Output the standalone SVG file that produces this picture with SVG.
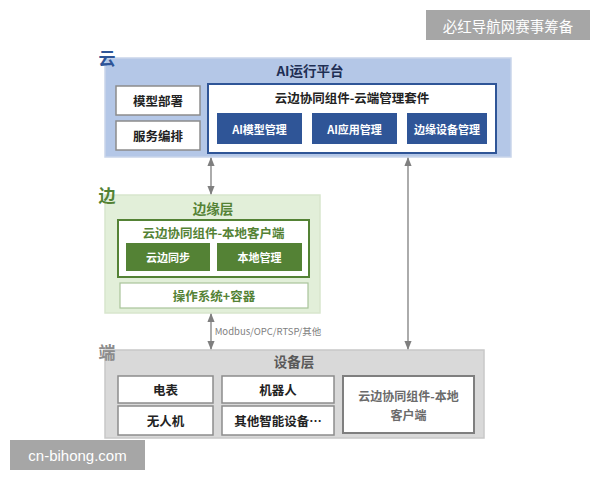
<svg xmlns="http://www.w3.org/2000/svg" width="600" height="480" viewBox="0 0 600 480">
<style>
text{font-family:"Noto Sans CJK SC","Noto Sans",sans-serif;font-weight:bold;text-anchor:middle;dominant-baseline:central}
text.n{font-weight:normal}
text.lat{font-family:"Liberation Sans",Arial,sans-serif;font-weight:normal}
.wbox{fill:#fff;stroke:#8c8c8c;stroke-width:1.5}
.blue{fill:#2f5597}
.green{fill:#548235}
.wt{fill:#fff;font-size:11px}
.bt{fill:#222;font-size:12.5px}
.conn{stroke:#7f7f7f;stroke-width:1.3;fill:none;marker-start:url(#ah);marker-end:url(#ah)}
</style>
<defs>
<marker id="ah" viewBox="0 0 10 10" refX="9" refY="5" markerWidth="7" markerHeight="7" orient="auto-start-reverse"><path d="M0,1 L10,5 L0,9 z" fill="#7f7f7f"/></marker>
</defs>
<rect width="600" height="480" fill="#fff"/>
<g id="cloud">
<rect x="105" y="58" width="406" height="99" fill="#b4c7e7" stroke="#c9d5ea" stroke-width="1.5"/>
<text x="107" y="57" fill="#2f5597" font-size="17">云</text>
<text x="310" y="70" fill="#1f2f55" font-size="13.5">AI运行平台</text>
<g id="deploy"><rect class="wbox" x="116" y="86" width="84" height="29"/><text class="bt" x="158" y="100.5">模型部署</text></g>
<g id="orch"><rect class="wbox" x="116" y="121" width="84" height="29"/><text class="bt" x="158" y="135.5">服务编排</text></g>
<g id="suite">
<rect x="208" y="84" width="288" height="69" fill="#fff" stroke="#2f5597" stroke-width="2"/>
<text x="352" y="97" fill="#222" font-size="12.5">云边协同组件-云端管理套件</text>
<g id="aimodel"><rect class="blue" x="217" y="113" width="85" height="31"/><text class="wt" x="259.5" y="128.5">AI模型管理</text></g>
<g id="aiapp"><rect class="blue" x="312" y="113" width="85" height="31"/><text class="wt" x="354.5" y="128.5">AI应用管理</text></g>
<g id="edgedev"><rect class="blue" x="407" y="113" width="80" height="31"/><text class="wt" x="447" y="128.5">边缘设备管理</text></g>
</g>
</g>
<g id="edge">
<rect x="105" y="195" width="215" height="118" fill="#e2efd9" stroke="#d8e6cd" stroke-width="1.5"/>
<text x="107" y="194" fill="#548235" font-size="17">边</text>
<text x="213" y="208" fill="#548235" font-size="13.5">边缘层</text>
<g id="client">
<rect x="118" y="220" width="191" height="57" fill="#fff" stroke="#548235" stroke-width="2"/>
<text x="213.5" y="232" fill="#548235" font-size="12.5">云边协同组件-本地客户端</text>
<g id="sync"><rect class="green" x="126" y="243" width="84" height="28"/><text class="wt" x="168" y="257" font-size="12.5">云边同步</text></g>
<g id="local"><rect class="green" x="217" y="243" width="85" height="28"/><text class="wt" x="259.5" y="257" font-size="12.5">本地管理</text></g>
</g>
<g id="os"><rect x="120" y="283" width="188" height="25" fill="#fff" stroke="#a9c49a" stroke-width="1.2"/><text x="214" y="295.5" fill="#548235" font-size="12.5">操作系统+容器</text></g>
</g>
<g id="device">
<rect x="105" y="350" width="379" height="88" fill="#d9d9d9" stroke="#c8c8c8" stroke-width="1.5"/>
<text x="107" y="351" fill="#8c8c8c" font-size="17">端</text>
<text x="294" y="361" fill="#595959" font-size="13.5">设备层</text>
<g id="meter"><rect class="wbox" x="118" y="376" width="95" height="27"/><text class="bt" x="165.5" y="389.5">电表</text></g>
<g id="robot"><rect class="wbox" x="222" y="376" width="112" height="27"/><text class="bt" x="278" y="389.5">机器人</text></g>
<g id="drone"><rect class="wbox" x="118" y="406" width="95" height="29"/><text class="bt" x="165.5" y="420.5">无人机</text></g>
<g id="other"><rect class="wbox" x="222" y="406" width="112" height="29"/><text class="bt" x="278" y="420.5">其他智能设备…</text></g>
<g id="devclient"><rect x="343" y="376" width="131" height="57" fill="#fff" stroke="#7f7f7f" stroke-width="2"/><text x="408.5" y="395.5" fill="#6b6b6b" font-size="12">云边协同组件-本地</text><text x="408.5" y="414" fill="#6b6b6b" font-size="12">客户端</text></g>
</g>
<g id="connectors">
<line class="conn" x1="211" y1="158" x2="211" y2="194"/>
<line class="conn" x1="211" y1="314" x2="211" y2="349"/>
<line class="conn" x1="408" y1="158" x2="408" y2="349"/>
<text class="n" x="268" y="331" fill="#7f7f7f" font-size="9.5">Modbus/OPC/RTSP/其他</text>
</g>
<g id="watermarks">
<rect x="426" y="10" width="164" height="30" fill="#a6a6a6"/>
<text class="n" x="508" y="25" fill="#fff" font-size="14.5">必红导航网赛事筹备</text>
<rect x="10" y="440" width="135" height="30" fill="#a6a6a6"/>
<text class="lat" x="77.5" y="455" fill="#fff" font-size="15">cn-bihong.com</text>
</g>
</svg>
